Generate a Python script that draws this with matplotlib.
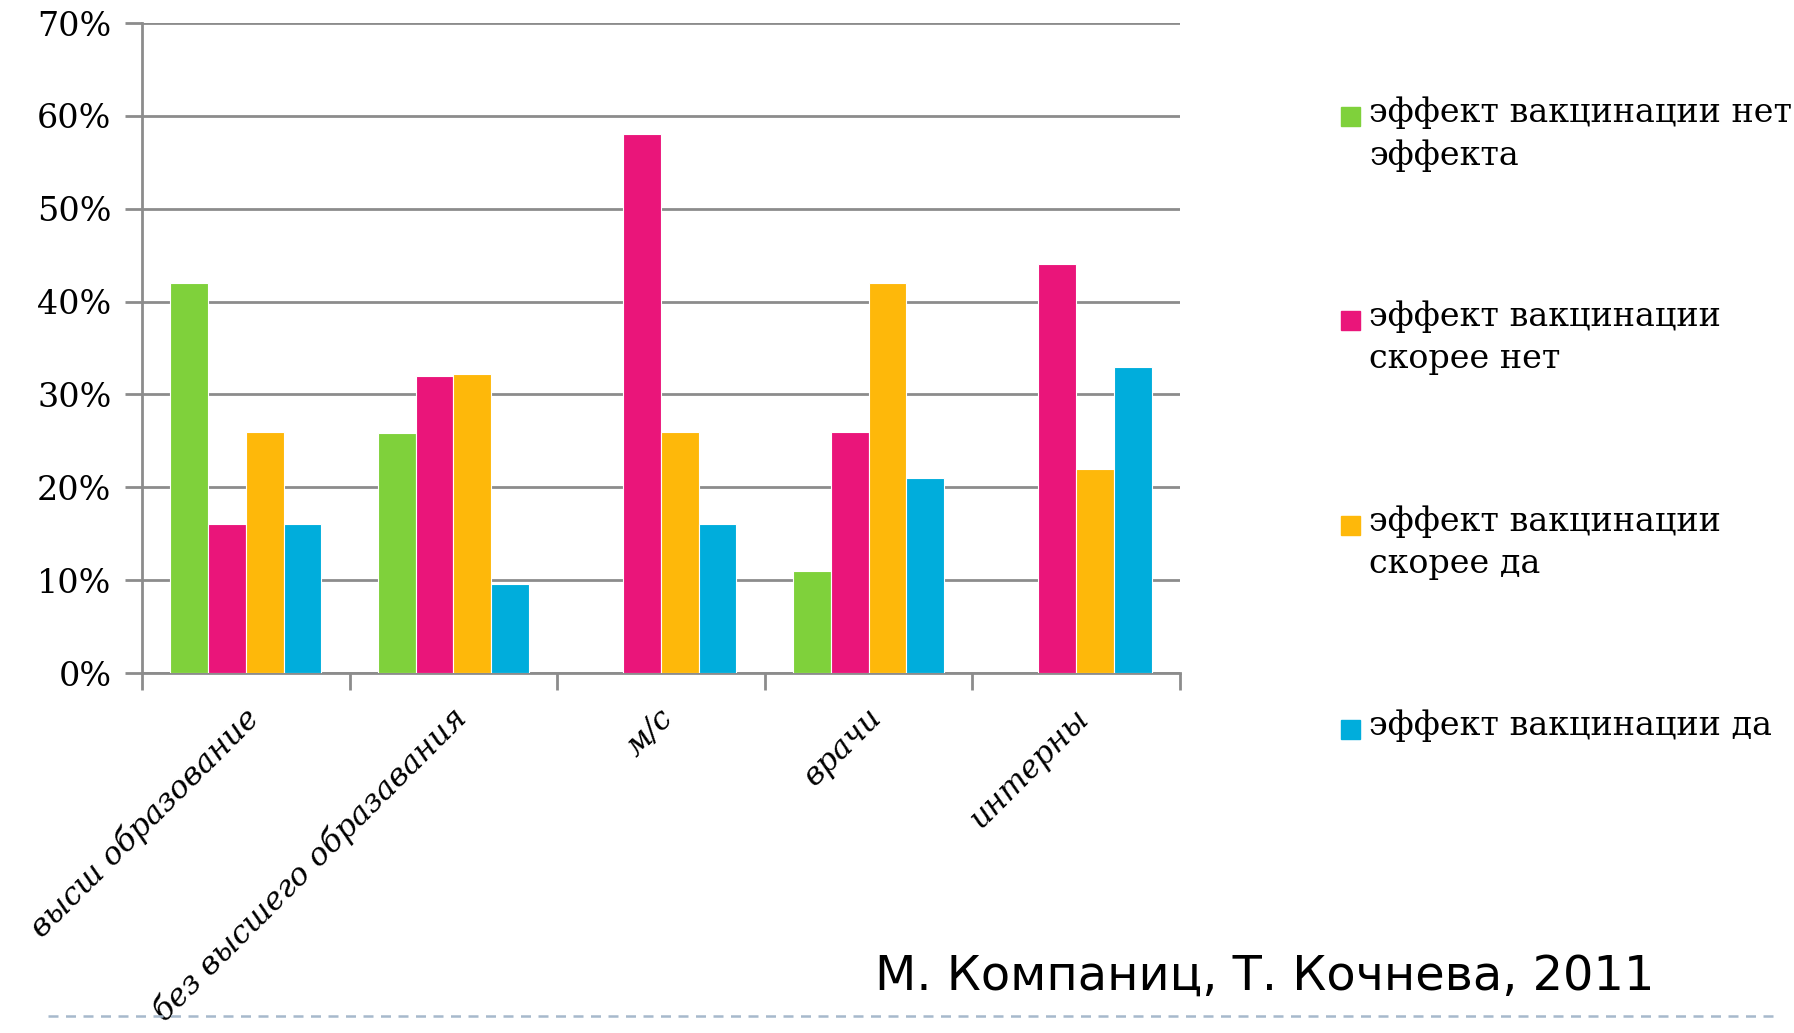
import matplotlib
matplotlib.use("Agg")
import matplotlib.pyplot as plt
from matplotlib.patches import Rectangle
from matplotlib.lines import Line2D
import matplotlib.transforms as mtransforms
import numpy as np

categories = ["высш образование", "без высшего образавания", "м/с", "врачи", "интерны"]
series_labels = ["эффект вакцинации нет\nэффекта",
                 "эффект вакцинации\nскорее нет",
                 "эффект вакцинации\nскорее да",
                 "эффект вакцинации да"]
no_effect = [42, 25.8, np.nan, 11, np.nan]
rather_no = [16, 32, 58, 26, 44]
rather_yes = [26, 32.2, 26, 42, 22]
yes_effect = [16, 9.6, 16, 21, 33]
series_values = [no_effect, rather_no, rather_yes, yes_effect]
colors = ["#7FD13B", "#EA157A", "#FEB80A", "#00ADDC"]
yticks = [0, 10, 20, 30, 40, 50, 60, 70]
ytick_labels = ["0%", "10%", "20%", "30%", "40%", "50%", "60%", "70%"]
credit = "М. Компаниц, Т. Кочнева, 2011"

W, H = 1794, 1033
fig = plt.figure(figsize=(W / 100, H / 100), dpi=100)
ax = fig.add_axes([142 / W, 1 - 673 / H, (1180 - 142) / W, (673 - 23) / H])

n = len(series_values)
bw = 1.0 / (n + 1.5)
x = np.arange(len(categories))
for i, (vals, col) in enumerate(zip(series_values, colors)):
    ax.bar(x + (i - (n - 1) / 2) * bw, vals, width=bw, color=col,
           edgecolor="white", linewidth=0.8, zorder=3)

ax.set_xlim(-0.5, len(categories) - 0.5)
ax.set_ylim(0, 70)
ax.set_yticks(yticks)
ax.set_yticklabels(ytick_labels, family="DejaVu Serif", fontsize=24)
ax.yaxis.grid(True, color="#8C8C8C", linewidth=2, zorder=0)
ax.tick_params(axis="y", length=12, width=2, color="#8C8C8C", pad=10)

ax.set_xticks(x)
ax.set_xticklabels(categories, rotation=45, ha="right", va="center",
                   rotation_mode="anchor", family="DejaVu Serif",
                   style="italic", fontsize=22.5)
ax.tick_params(axis="x", length=0, pad=29)
off = mtransforms.ScaledTranslation(8 / 100, 0, fig.dpi_scale_trans)
for lab in ax.get_xticklabels():
    lab.set_transform(lab.get_transform() + off)
ax.set_xticks(np.arange(-0.5, len(categories)), minor=True)
ax.tick_params(axis="x", which="minor", length=12, width=2, color="#8C8C8C")

for s in ["top", "right"]:
    ax.spines[s].set_visible(False)
for s in ["left", "bottom"]:
    ax.spines[s].set_color("#8C8C8C")
    ax.spines[s].set_linewidth(2)

# legend drawn manually
leg_y = [117, 321, 526, 730]
for lab, col, yy in zip(series_labels, colors, leg_y):
    fig.patches.append(Rectangle((1341 / W, 1 - (yy + 9) / H), 19 / W, 19 / H,
                                 transform=fig.transFigure, color=col))
    fig.text(1369 / W, 1 - (yy - 21) / H, lab, family="DejaVu Serif",
             fontsize=24, va="top", ha="left", linespacing=1.4)

fig.text(1654 / W, 1 - 990 / H, credit, family="DejaVu Sans",
         fontsize=34.5, ha="right", va="baseline")

fig.add_artist(Line2D([48 / W, 1776 / W], [1 - 1016 / H, 1 - 1016 / H],
                      transform=fig.transFigure, color="#A7B9CC",
                      linewidth=1.8, linestyle=(0, (4, 3))))

fig.savefig("out.png", dpi=100)
